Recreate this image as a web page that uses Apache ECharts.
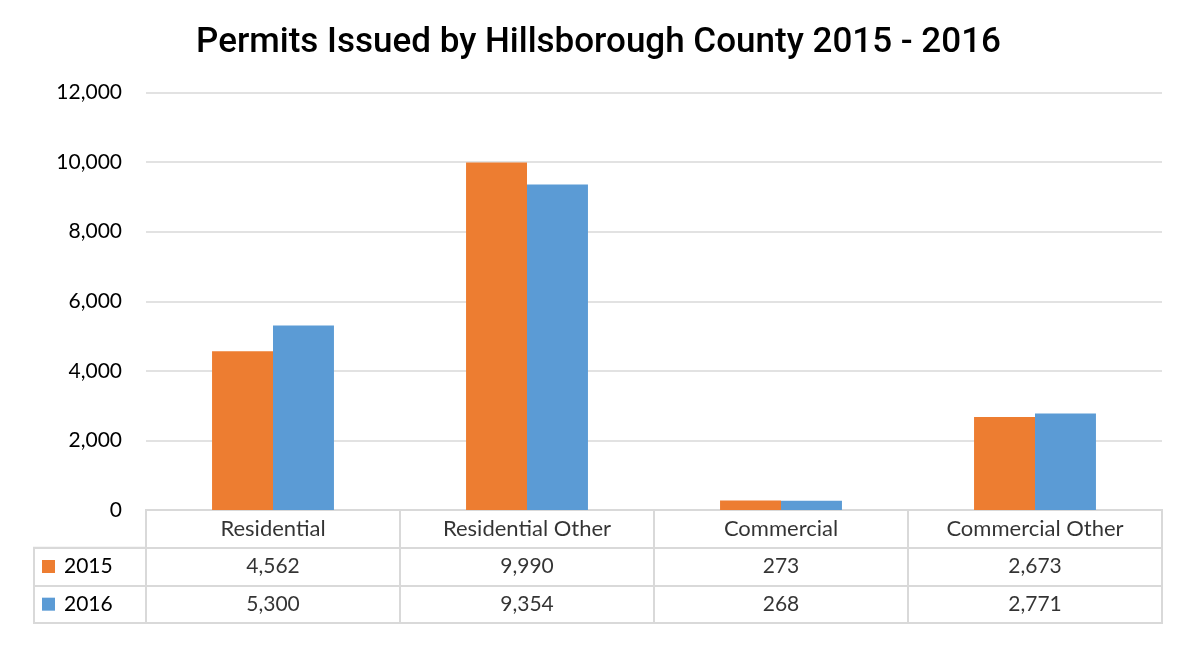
<!DOCTYPE html>
<html>
<head>
<meta charset="utf-8">
<script src="https://cdn.jsdelivr.net/npm/echarts@6/dist/echarts.min.js"></script>
<style>
html,body{margin:0;padding:0;background:#fff;}
#chart{width:1197px;height:670px;}
</style>
</head>
<body>
<div id="chart"></div>
<script>
const titleText = 'Permits Issued by Hillsborough County 2015 - 2016';
const categories = ['Residential', 'Residential Other', 'Commercial', 'Commercial Other'];
const seriesNames = ['2015', '2016'];
const values2015 = [4562, 9990, 273, 2673];
const values2016 = [5300, 9354, 268, 2771];
const yTicks = { min: 0, max: 12000, interval: 2000 };

const colors = ['#ED7D31', '#5B9BD5'];
const fmt = v => Number(v).toLocaleString('en-US');
const FONT = 'Lato';
const TXT = '#000';
const LINE = '#d9d9d9';
const allValues = [values2015, values2016];
const HDR = 'hdr';

// table cells built from data arrays
const headerCells = categories.map(c => [c, HDR, c]);
const valueCells = [];
seriesNames.forEach((s, si) => {
  categories.forEach((c, ci) => valueCells.push([c, s, allValues[si][ci]]));
});

const chart = echarts.init(document.getElementById('chart'));
chart.setOption({
  backgroundColor: '#fff',
  animation: false,
  title: {
    text: titleText,
    left: 'center',
    top: 21,
    textStyle: { fontFamily: 'Roboto', fontWeight: 500, fontSize: 35, color: '#000' }
  },
  grid: [
    { left: 146, right: 35, top: 92.5, bottom: 160, containLabel: false },
    { left: 146, right: 35, top: 510, bottom: 47, show: true, borderColor: LINE, borderWidth: 2 },
    { left: 34, width: 112, top: 547.7, bottom: 47, show: true, borderColor: LINE, borderWidth: 2 }
  ],
  xAxis: [
    { type: 'category', gridIndex: 0, data: categories,
      axisLine: { show: false }, axisTick: { show: false }, axisLabel: { show: false } },
    { type: 'category', gridIndex: 1, data: categories,
      axisLine: { show: false }, axisTick: { show: false }, axisLabel: { show: false },
      splitLine: { show: true, lineStyle: { color: LINE, width: 2 } } },
    { type: 'value', gridIndex: 2, show: false }
  ],
  yAxis: [
    { type: 'value', gridIndex: 0, min: yTicks.min, max: yTicks.max, interval: yTicks.interval,
      axisLine: { show: false }, axisTick: { show: false },
      axisLabel: { margin: 24, formatter: v => fmt(v), fontFamily: FONT, fontSize: 21, color: TXT },
      splitLine: { lineStyle: { color: LINE, width: 1.5 } } },
    { type: 'category', gridIndex: 1, data: [HDR].concat(seriesNames), inverse: true,
      axisLine: { show: false }, axisTick: { show: false }, axisLabel: { show: false },
      splitLine: { show: true, lineStyle: { color: LINE, width: 2 } } },
    { type: 'category', gridIndex: 2, data: seriesNames, inverse: true,
      axisLine: { show: false }, axisTick: { show: false },
      splitLine: { show: true, lineStyle: { color: LINE, width: 2 } },
      axisLabel: {
        inside: true, margin: 8, align: 'left',
        formatter: (v, i) => '{s' + i + '|}{t|' + v + '}',
        rich: {
          s0: { width: 13, height: 13, backgroundColor: colors[0] },
          s1: { width: 13, height: 13, backgroundColor: colors[1] },
          t: { fontFamily: FONT, fontSize: 21, color: TXT, padding: [0, 0, 0, 9] }
        }
      } }
  ],
  series: [
    { name: seriesNames[0], type: 'bar', xAxisIndex: 0, yAxisIndex: 0, data: values2015,
      barGap: '0%', barCategoryGap: '52%', itemStyle: { color: colors[0] } },
    { name: seriesNames[1], type: 'bar', xAxisIndex: 0, yAxisIndex: 0, data: values2016,
      barGap: '0%', barCategoryGap: '52%', itemStyle: { color: colors[1] } },
    { type: 'scatter', xAxisIndex: 1, yAxisIndex: 1, data: headerCells, symbolSize: 1,
      itemStyle: { color: 'transparent' }, silent: true,
      label: { show: true, position: 'inside', formatter: p => p.value[2],
        fontFamily: FONT, fontSize: 22, color: TXT } },
    { type: 'scatter', xAxisIndex: 1, yAxisIndex: 1, data: valueCells, symbolSize: 1,
      itemStyle: { color: 'transparent' }, silent: true,
      label: { show: true, position: 'inside', formatter: p => fmt(p.value[2]),
        fontFamily: FONT, fontSize: 21, color: TXT } }
  ]
});
</script>
</body>
</html>
